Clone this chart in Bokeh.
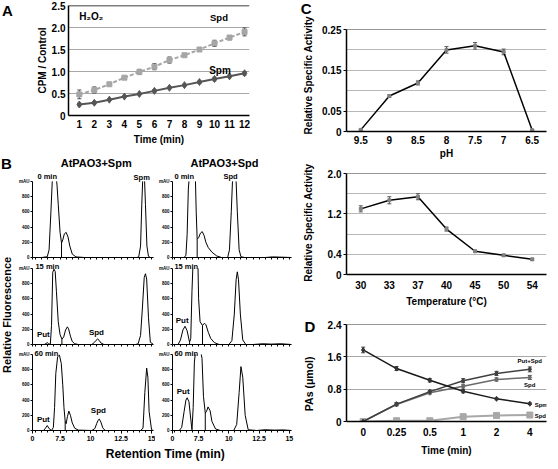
import math
from bokeh.plotting import figure
from bokeh.layouts import row, column
from bokeh.models import (Range1d, FactorRange, FixedTicker, Label, Whisker, TeeHead, Span,
                          ColumnDataSource, CustomJSTickFormatter)
from bokeh.embed import file_html
from bokeh.resources import INLINE

NAN = float("nan")  # off-scale (clipped) part of a chromatogram peak

# ---------------- data ----------------
# Panel A : H2O2 production (CPM / Control)
a_time = [1, 2, 3, 4, 5, 6, 7, 8, 9, 10, 11, 12]
a_spd = [0.48, 0.58, 0.71, 0.86, 0.99, 1.11, 1.26, 1.37, 1.50, 1.64, 1.77, 1.90]
a_spd_err = [0.10, 0.07, 0.02, 0.03, 0.06, 0.07, 0.07, 0.03, 0.04, 0.07, 0.05, 0.09]
a_spm = [0.25, 0.29, 0.36, 0.43, 0.49, 0.56, 0.63, 0.69, 0.76, 0.83, 0.89, 0.96]
a_spm_err = [0.03, 0.03, 0.02, 0.02, 0.02, 0.03, 0.02, 0.02, 0.03, 0.04, 0.03, 0.04]

# Panel B : chromatograms (retention time in min, signal in mAU; NaN = off scale)
b_spm0_x = [5.24, 6.0, 6.45, 6.6, 6.75, 6.86, 6.95, 7.22, 7.25, 7.35, 7.5, 7.62, 7.72, 7.85, 8.0, 8.15, 8.3,
            8.5, 8.8, 9.5, 13.8, 13.95, 14.1, 14.2, 14.27, 14.35, 14.43, 14.5, 14.62, 14.75, 14.9, 15.16]
b_spm0_y = [0, 0, 10, 100, 600, 1000, NAN, 1000, 950, 700, 330, 190, 230, 310, 330, 270, 150,
            45, 8, 0, 0, 10, 150, 700, 1000, NAN, 1000, 700, 150, 15, 0, 0]
b_spm0_drop_x = [7.62]
b_spm0_drop_y = [190]

b_spm15_x = [5.24, 6.2, 6.35, 6.45, 6.55, 6.7, 6.8, 6.9, 7.0, 7.1, 7.2, 7.35, 7.5, 7.65, 7.8, 7.95, 8.1, 8.2, 8.35,
             8.5, 8.7, 9.0, 10.1, 10.3, 10.45, 10.58, 10.7, 10.85, 11.1, 13.7, 13.9, 14.1, 14.25, 14.4, 14.5,
             14.6, 14.75, 14.9, 15.16]
b_spm15_y = [0, 0, 12, 25, 12, 0, 250, 950, 990, 960, 700, 300, 130, 70, 100, 190, 232, 205, 110,
             40, 10, 0, 0, 25, 55, 73, 55, 20, 0, 0, 10, 120, 480, 880, 930,
             860, 350, 30, 0]
b_spm15_drop_x = [7.65]
b_spm15_drop_y = [70]

b_spm60_x = [5.24, 6.15, 6.3, 6.45, 6.6, 6.8, 6.95, 7.05, 7.15, 7.3, 7.45, 7.6, 7.72, 7.82, 7.92, 8.0, 8.1, 8.22,
             8.35, 8.5, 8.7, 9.0, 10.1, 10.35, 10.5, 10.62, 10.72, 10.85, 11.0, 11.2, 14.1, 14.3, 14.45, 14.6,
             14.7, 14.8, 15.0, 15.16]
b_spm60_y = [0, 0, 30, 65, 25, 0, 40, 300, 750, 970, 990, 880, 600, 300, 120, 90, 180, 255,
             200, 100, 30, 5, 0, 25, 90, 135, 150, 110, 35, 0, 0, 30, 500, 820,
             700, 250, 10, 0]
b_spm60_drop_x = [7.92]
b_spm60_drop_y = [120]

b_spd0_x = [5.34, 6.3, 6.45, 6.55, 6.65, 6.7, 6.95, 7.24, 7.3, 7.38, 7.5, 7.65, 7.8, 7.95, 8.1, 8.3, 8.6, 9.0,
            9.4, 9.9, 10.05, 10.2, 10.3, 10.45, 10.6, 10.7, 10.85, 11.0, 11.3, 13.0, 13.6, 14.2, 15.18]
b_spd0_y = [0, 0, 30, 300, 900, 1000, NAN, 1000, 600, 240, 260, 320, 340, 290, 200, 130, 70, 20,
            0, 0, 100, 600, 1000, NAN, 1000, 600, 100, 10, 0, 0, 8, 5, 0]
b_spd0_drop_x = [7.38]
b_spd0_drop_y = [240]

b_spd15_x = [5.34, 5.8, 6.0, 6.2, 6.38, 6.55, 6.75, 6.85, 6.95, 7.02, 7.2, 7.45, 7.5, 7.62, 7.82, 7.98, 8.1, 8.3,
             8.5, 8.8, 9.2, 10.0, 10.25, 10.45, 10.6, 10.7, 10.8, 10.95, 11.15, 11.4, 12.0, 12.8, 13.5, 14.3,
             15.18]
b_spd15_y = [0, 0, 60, 190, 240, 180, 30, 80, 700, 1000, NAN, 1000, 600, 300, 250, 280, 260, 160,
             80, 25, 0, 0, 50, 400, 850, 955, 850, 400, 60, 0, 0, 10, 5, 10,
             0]
b_spd15_drop_x = [6.75, 7.82]
b_spd15_drop_y = [30, 250]

b_spd60_x = [5.34, 5.9, 6.1, 6.3, 6.45, 6.55, 6.7, 6.85, 6.95, 7.05, 7.15, 7.22, 7.5, 7.72, 7.78, 7.9, 8.05,
             8.15, 8.28, 8.45, 8.6, 8.9, 9.3, 10.4, 10.65, 10.85, 11.0, 11.15, 11.35, 11.6, 12.3, 13.0, 13.8,
             14.5, 15.18]
b_spd60_y = [0, 0, 40, 250, 400, 430, 380, 150, 10, 300, 900, 1000, NAN, 1000, 950, 450, 230,
             250, 310, 260, 120, 20, 0, 0, 80, 500, 840, 700, 200, 10, 0, 10, 5,
             8, 0]
b_spd60_drop_x = [6.95, 8.05]
b_spd60_drop_y = [10, 230]

# Panel C : pH and temperature optima
ph_labels = ["9.5", "9", "8.5", "8", "7.5", "7", "6.5"]
ph_act = [0.004, 0.087, 0.119, 0.200, 0.210, 0.195, 0.003]
ph_err = [0.002, 0.003, 0.005, 0.008, 0.008, 0.007, 0.002]
temp_labels = ["30", "33", "37", "40", "45", "50", "54"]
temp_act = [1.30, 1.47, 1.54, 0.90, 0.46, 0.38, 0.30]
temp_err = [0.06, 0.07, 0.06, 0.04, 0.02, 0.02, 0.02]

# Panel D : time course of polyamines
d_time = ["0", "0.25", "0.5", "1", "2", "4"]
d_spm = [1.77, 1.31, 1.02, 0.75, 0.56, 0.44]
d_spm_err = [0.07, 0.05, 0.04, 0.04, 0.02, 0.02]
d_putspd = [0.0, 0.43, 0.74, 1.01, 1.19, 1.29]
d_putspd_err = [0.02, 0.04, 0.03, 0.05, 0.05, 0.06]
d_spd = [0.0, 0.42, 0.71, 0.87, 1.04, 1.09]
d_spd_err = [0.02, 0.03, 0.03, 0.04, 0.04, 0.05]
d_spd2 = [0.0, 0.02, 0.02, 0.12, 0.15, 0.16]

# ---------------- helpers ----------------
FONT = "Liberation Sans"
SX = 550 / 558
SY = 461 / 469


def X(v):
    return int(round(v * SX))


def Y(v):
    return int(round(v * SY))


def make_fig(cx0, cx1, cy0, cy1, fx0, fx1, fy0, fy1, x_range, y_range):
    p = figure(width=X(cx1) - X(cx0), height=Y(cy1) - Y(cy0), x_range=x_range, y_range=y_range,
               output_backend="svg", toolbar_location=None,
               min_border_left=X(fx0) - X(cx0), min_border_right=X(cx1) - X(fx1),
               min_border_top=Y(fy0) - Y(cy0), min_border_bottom=Y(cy1) - Y(fy1))
    p.outline_line_color = None
    return p


def blank_fig(cx0, cx1, cy0, cy1):
    p = figure(width=X(cx1) - X(cx0), height=Y(cy1) - Y(cy0),
               x_range=Range1d(cx0, cx1), y_range=Range1d(cy1, cy0),
               x_axis_type=None, y_axis_type=None, output_backend="svg", toolbar_location=None,
               min_border_left=0, min_border_right=0, min_border_top=0, min_border_bottom=0)
    p.outline_line_color = None
    return p


def G(fx0, fx1, fy0, fy1, x0, x1, y0, y1):
    def f(px, py):
        return (x0 + (px - fx0) / (fx1 - fx0) * (x1 - x0),
                y0 + (fy1 - py) / (fy1 - fy0) * (y1 - y0))
    return f


def put(p, xy, text, size, align="center", baseline="middle", angle=0.0, color="black"):
    p.add_layout(Label(x=xy[0], y=xy[1], text=text, text_font=FONT, text_font_size=f"{size}px",
                       text_font_style="bold", text_align=align, text_baseline=baseline,
                       angle=angle, text_color=color))


def style_axis(ax, size, tick_out=0, standoff=3, lw=1.5):
    ax.axis_line_color = "black"
    ax.axis_line_width = lw
    ax.major_tick_line_color = "black"
    ax.major_tick_out = tick_out
    ax.major_tick_in = 0
    ax.minor_tick_out = 0
    ax.minor_tick_in = 0
    ax.major_label_text_font = FONT
    ax.major_label_text_font_style = "bold"
    ax.major_label_text_font_size = f"{size}px"
    ax.major_label_text_color = "black"
    ax.major_label_standoff = standoff


def style_axis_label(ax, text, size, standoff):
    ax.axis_label = text
    ax.axis_label_text_font = FONT
    ax.axis_label_text_font_style = "bold"
    ax.axis_label_text_font_size = f"{size}px"
    ax.axis_label_text_color = "black"
    ax.axis_label_standoff = standoff


def whisk(p, xs, ys, errs, color, size=4):
    src = ColumnDataSource(dict(x=xs, lo=[v - e for v, e in zip(ys, errs)],
                                hi=[v + e for v, e in zip(ys, errs)]))
    p.add_layout(Whisker(source=src, base="x", lower="lo", upper="hi", dimension="height",
                         line_color=color, line_width=1,
                         upper_head=TeeHead(size=size, line_color=color, line_width=1),
                         lower_head=TeeHead(size=size, line_color=color, line_width=1)))


# ---------------- Panel A ----------------
pAs = blank_fig(0, 14, 0, 150)
put(pAs, (7, 10), "A", 15)

gA = G(69, 253, 5, 119, 0.28, 12.33, 0, 2.5)
pA = make_fig(14, 300, 0, 150, 69, 253, 5, 119, Range1d(0.28, 12.33), Range1d(0, 2.5))
pA.xgrid.visible = False
pA.ygrid.ticker = FixedTicker(ticks=[0.5, 1.0, 1.5, 2.0])
pA.ygrid.grid_line_color = "#a8a8a8"
pA.ygrid.grid_line_width = 1
pA.add_layout(Span(location=2.5, dimension="width", line_color="black", line_width=1.5))
style_axis(pA.xaxis[0], 10, 0, 4)
pA.xaxis[0].ticker = FixedTicker(ticks=a_time)
style_axis_label(pA.xaxis[0], "Time (min)", 10, 3)
style_axis(pA.yaxis[0], 10, 0, 3)
pA.yaxis[0].ticker = FixedTicker(ticks=[0, 0.5, 1.0, 1.5, 2.0, 2.5])
pA.yaxis[0].formatter = CustomJSTickFormatter(code="return tick == 0 ? '0' : tick.toFixed(1);")
style_axis_label(pA.yaxis[0], "CPM / Control", 10, 1)

pA.line(a_time, a_spd, line_color="#a6a6a6", line_width=2, line_dash="4 2")
whisk(pA, a_time, a_spd, a_spd_err, "#505050", 4)
pA.scatter(a_time, a_spd, marker="square", size=5, color="#a6a6a6")
pA.line(a_time, a_spm, line_color="#555555", line_width=2)
whisk(pA, a_time, a_spm, a_spm_err, "#505050", 4)
pA.scatter(a_time, a_spm, marker="diamond", size=7, color="#555555")

put(pA, gA(80, 16), "H\u2082O\u2082", 10, align="left")
put(pA, gA(222, 17), "Spd", 9.5)
put(pA, gA(223, 72), "Spm", 10)

# ---------------- Panel B ----------------
pBh = blank_fig(0, 300, 150, 174)
put(pBh, (6, 166), "B", 15)
put(pBh, (97, 165), "AtPAO3+Spm", 11)
put(pBh, (227, 165), "AtPAO3+Spd", 11)

pBs = blank_fig(0, 12, 174, 454)
put(pBs, (6, 320), "Relative Fluorescence", 11, angle=math.pi / 2)

pBf = blank_fig(0, 300, 454, 469)
put(pBf, (167, 461), "Retention Time (min)", 12)

minor = [5.5 + 0.5 * i for i in range(20)]


def chrom(col, rowi, xs, ys, dxs, dys, labels):
    cx0, cx1, fx0, fx1, xr = [(12, 157, 32, 155, (5.24, 15.16)), (157, 300, 172, 295, (5.34, 15.18))][col]
    # canvas top, canvas bottom, level of 1000 mAU, baseline (0 mAU)
    cy0, cy1, top1000, base = [(174, 266, 184, 261), (266, 355, 273, 350), (355, 454, 360, 437)][rowi]
    y_end = 1000.0 * (base - cy0) / (base - top1000)
    p = make_fig(cx0, cx1, cy0, cy1, fx0, fx1, cy0, base, Range1d(*xr), Range1d(0, y_end))
    p.grid.visible = False
    g = G(fx0, fx1, cy0, base, xr[0], xr[1], 0, y_end)
    xa = p.xaxis[0]
    if rowi == 2:
        style_axis(xa, 7, 3, 2, lw=1)
        xa.ticker = FixedTicker(ticks=[xr[0], 7.5, 10, 12.5, 15], minor_ticks=minor)
        xa.formatter = CustomJSTickFormatter(
            code="return tick < 6 ? '0' : (tick % 1 == 0 ? tick.toFixed(0) : tick.toFixed(1));")
    else:
        style_axis(xa, 7, 3, 0, lw=1)
        xa.ticker = FixedTicker(ticks=[], minor_ticks=[xr[0]] + minor)
    xa.minor_tick_out = 2
    xa.minor_tick_line_color = "black"
    ya = p.yaxis[0]
    style_axis(ya, 4.5, 2, 1, lw=1)
    ya.bounds = (0, 1000)
    ya.ticker = FixedTicker(ticks=[0, 200, 400, 600, 800, 1000])
    ya.formatter = CustomJSTickFormatter(code="return tick == 1000 ? 'mAU' : tick.toFixed(0);")
    p.line(xs, ys, line_color="black", line_width=1)
    p.segment(x0=dxs, y0=[0] * len(dxs), x1=dxs, y1=dys, line_color="black", line_width=1)
    for (px, py, txt, size, align) in labels:
        put(p, g(px, py), txt, size, align=align)
    return p


r1a = chrom(0, 0, b_spm0_x, b_spm0_y, b_spm0_drop_x, b_spm0_drop_y,
            [(37, 179, "0 min", 7.5, "left"), (143, 180, "Spm", 7.5, "center")])
r2a = chrom(0, 1, b_spm15_x, b_spm15_y, b_spm15_drop_x, b_spm15_drop_y,
            [(35, 271, "15 min", 7.5, "left"), (43, 340, "Put", 8, "center"), (97, 338, "Spd", 8, "center")])
r3a = chrom(0, 2, b_spm60_x, b_spm60_y, b_spm60_drop_x, b_spm60_drop_y,
            [(34, 359, "60 min", 7.5, "left"), (43, 426, "Put", 8, "center"), (99, 417, "Spd", 8, "center")])
r1b = chrom(1, 0, b_spd0_x, b_spd0_y, b_spd0_drop_x, b_spd0_drop_y,
            [(174, 179, "0 min", 7.5, "left"), (232, 179, "Spd", 7.5, "center")])
r2b = chrom(1, 1, b_spd15_x, b_spd15_y, b_spd15_drop_x, b_spd15_drop_y,
            [(174, 271, "15 min", 7.5, "left"), (182, 326, "Put", 8, "center")])
r3b = chrom(1, 2, b_spd60_x, b_spd60_y, b_spd60_drop_x, b_spd60_drop_y,
            [(174, 359, "60 min", 7.5, "left"), (183, 398, "Put", 8, "center")])

# ---------------- right-hand strip (panel letters and y titles) ----------------
pRs = blank_fig(300, 322, 0, 469)
put(pRs, (310, 8), "C", 15)
put(pRs, (313, 76), "Relative Specific Activity", 10, angle=math.pi / 2)
put(pRs, (313, 226), "Relative Specific Activity", 10, angle=math.pi / 2)
put(pRs, (314, 332), "D", 15)
put(pRs, (313, 390), "PAs (\u03bcmol)", 10.5, angle=math.pi / 2)

FL, FR = 351, 554

# ---------------- Panel C (pH) ----------------
pC1 = make_fig(322, 558, 0, 164, FL, FR, 29, 134, FactorRange(factors=ph_labels), Range1d(0, 0.25))
pC1.xgrid.visible = False
pC1.ygrid.ticker = FixedTicker(ticks=[0.05, 0.10, 0.15, 0.20])
pC1.ygrid.grid_line_color = "#b8b8b8"
pC1.add_layout(Span(location=0.25, dimension="width", line_color="#303030", line_width=1))
style_axis(pC1.xaxis[0], 10, 0, 4)
style_axis_label(pC1.xaxis[0], "pH", 10, 1)
style_axis(pC1.yaxis[0], 10, 3, 2)
pC1.yaxis[0].ticker = FixedTicker(ticks=[0, 0.05, 0.15, 0.25])
pC1.yaxis[0].formatter = CustomJSTickFormatter(code="return tick == 0 ? '0' : tick.toFixed(2);")
pC1.line(ph_labels, ph_act, line_color="black", line_width=1.5)
whisk(pC1, ph_labels, ph_act, ph_err, "#555555", 4)
pC1.scatter(ph_labels, ph_act, marker="square", size=3, color="#808080")

# ---------------- Panel C (temperature) ----------------
pC2 = make_fig(322, 558, 164, 314, FL, FR, 176, 281, FactorRange(factors=temp_labels), Range1d(0, 2.0))
pC2.xgrid.visible = False
pC2.ygrid.ticker = FixedTicker(ticks=[0.4, 0.8, 1.2, 1.6])
pC2.ygrid.grid_line_color = "#b8b8b8"
pC2.add_layout(Span(location=2.0, dimension="width", line_color="#303030", line_width=1))
style_axis(pC2.xaxis[0], 10, 0, 6)
style_axis_label(pC2.xaxis[0], "Temperature (\u00b0C)", 10, 4)
style_axis(pC2.yaxis[0], 10, 3, 2)
pC2.yaxis[0].ticker = FixedTicker(ticks=[0, 0.4, 1.2, 2.0])
pC2.yaxis[0].formatter = CustomJSTickFormatter(code="return tick == 0 ? '0' : tick.toFixed(1);")
pC2.line(temp_labels, temp_act, line_color="black", line_width=1.5)
whisk(pC2, temp_labels, temp_act, temp_err, "#555555", 4)
pC2.scatter(temp_labels, temp_act, marker="square", size=3, color="#808080")

# ---------------- Panel D ----------------
gD = G(FL, FR, 330, 428, 0, 6, 0, 2.4)
pD = make_fig(322, 558, 314, 469, FL, FR, 330, 428, FactorRange(factors=d_time), Range1d(0, 2.4))
pD.xgrid.visible = False
pD.ygrid.ticker = FixedTicker(ticks=[0.8, 1.6])
pD.ygrid.grid_line_color = "#a8a8a8"
pD.add_layout(Span(location=2.4, dimension="width", line_color="#303030", line_width=1))
style_axis(pD.xaxis[0], 10, 0, 6)
style_axis_label(pD.xaxis[0], "Time (min)", 10, 6)
style_axis(pD.yaxis[0], 10, 3, 2)
pD.yaxis[0].ticker = FixedTicker(ticks=[0, 0.8, 1.6, 2.4])
pD.yaxis[0].formatter = CustomJSTickFormatter(code="return tick == 0 ? '0' : tick.toFixed(1);")

pD.line(d_time, d_spd2, line_color="#a8a8a8", line_width=2)
pD.scatter(d_time, d_spd2, marker="square", size=6, color="#a8a8a8")
pD.line(d_time, d_spd, line_color="#6a6a6a", line_width=1.5)
whisk(pD, d_time, d_spd, d_spd_err, "#555555", 4)
pD.scatter(d_time, d_spd, marker="diamond", size=5, color="#6a6a6a")
pD.line(d_time, d_putspd, line_color="#404040", line_width=1.5)
whisk(pD, d_time, d_putspd, d_putspd_err, "#404040", 4)
pD.scatter(d_time, d_putspd, marker="diamond", size=5, color="#404040")
pD.line(d_time, d_spm, line_color="#1a1a1a", line_width=1.5)
whisk(pD, d_time, d_spm, d_spm_err, "#404040", 4)
pD.scatter(d_time, d_spm, marker="diamond", size=5, color="#333333")

put(pD, gD(537, 367), "Put+Spd", 6)
put(pD, gD(537, 391), "Spd", 6)
put(pD, gD(542, 411), "Spm", 6, align="left")
put(pD, gD(542, 422), "Spd", 6, align="left")

# ---------------- layout ----------------
rowA = row(column(pAs), column(pA))
col1 = column(r1a, r2a, r3a)
col2 = column(r1b, r2b, r3b)
b_mid = row(pBs, col1, col2)
left = column(rowA, pBh, b_mid, pBf)
right = row(pRs, column(pC1, pC2, pD))
p = row(left, right)

open("out.html", "w").write(file_html(p, INLINE))
